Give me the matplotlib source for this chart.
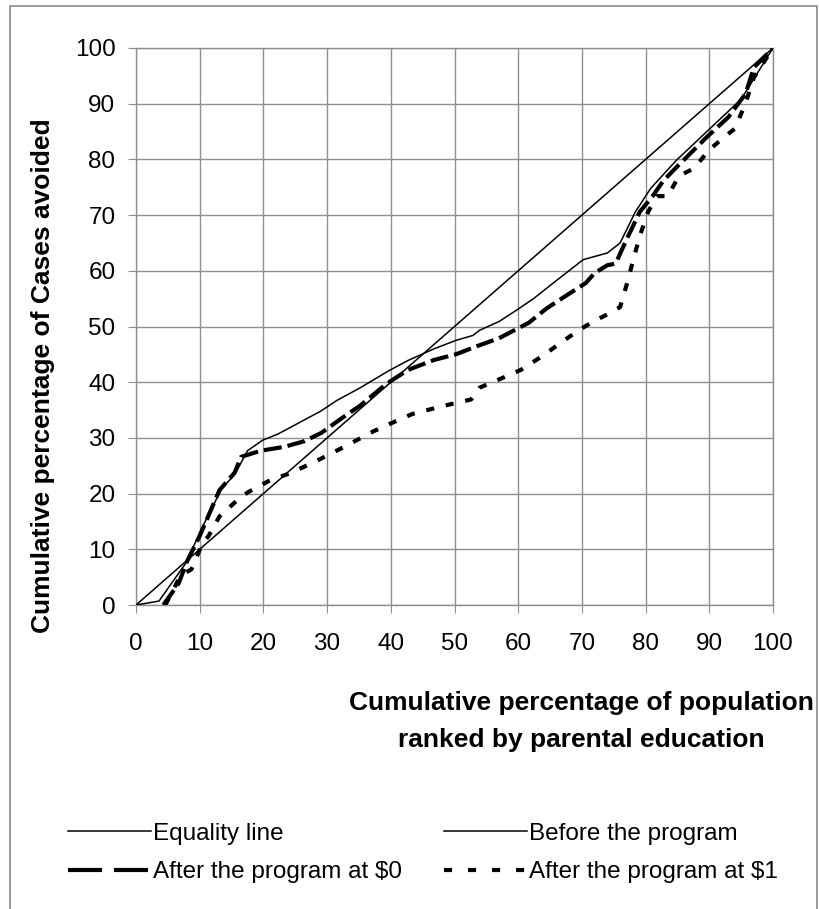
import matplotlib
matplotlib.use("Agg")
import matplotlib.pyplot as plt
from matplotlib.lines import Line2D
from matplotlib.patches import Rectangle

plt.rcParams['font.family'] = ['Liberation Sans', 'DejaVu Sans']
plt.rcParams['lines.scale_dashes'] = False

# ---- data ----
equality_x = [0, 100]
equality_y = [0, 100]

before_x = [0, 3.6, 8, 10, 13.5, 15.5, 17.5, 19.9, 22.3, 25.4, 29, 31.5, 35.2, 39.6, 42.7,
            46.8, 50.2, 52.9, 53.9, 57, 59.7, 62.4, 65.5, 70.2, 74, 76, 78.4, 80.8, 84.8,
            91, 95, 100]
before_y = [0, 0.7, 7.8, 13, 21, 23.4, 27.7, 29.6, 30.7, 32.6, 34.8, 36.7, 39, 42, 43.9,
            46, 47.5, 48.4, 49.3, 50.9, 52.9, 55, 57.8, 62, 63.2, 65, 70.6, 74.8, 79.8,
            86.5, 90.8, 100]

after0_x = [4.3, 6.7, 8, 10, 13.1, 15.5, 16.5, 19.6, 23.3, 26.4, 29.1, 32.5, 35.2, 39.3,
            42.7, 46.8, 50.2, 53.6, 57, 61.7, 64.4, 67.2, 70.6, 72, 74, 75.3, 77, 79.1,
            81.1, 82.8, 85.2, 89.6, 93, 95.7, 97, 100]
after0_y = [0, 3.9, 7.8, 12.4, 20.6, 23.8, 26.6, 27.7, 28.4, 29.4, 30.9, 33.7, 35.8, 39.7,
            42.2, 44, 45, 46.5, 47.9, 50.7, 53.2, 55.3, 57.8, 59.6, 61, 61.3, 65.6, 70.6,
            73.4, 76.2, 79, 84, 87.6, 91.8, 96.5, 100]

after1_x = [4.6, 7, 8.7, 10.4, 11.4, 13.1, 15.5, 17.5, 20.9, 24.3, 28.4, 33.2, 37.3, 40,
            43.4, 48.1, 52.6, 53.9, 57.6, 60.4, 63.8, 67.2, 69.5, 71.9, 74.6, 76, 77, 78,
            79.1, 80.4, 81.8, 83.5, 85.2, 87.6, 89.9, 92, 94, 95.7, 97, 100]
after1_y = [0, 5.3, 6.4, 11, 12.4, 15.9, 18.4, 20.2, 22.3, 23.7, 25.9, 28.7, 31.2, 32.6,
            34.3, 35.7, 36.9, 39, 40.8, 42.2, 44.7, 47.5, 49.3, 51, 52.5, 53.5, 57.4, 61.7,
            66.3, 70.6, 73.4, 73.4, 77, 78.4, 81.6, 83.7, 85.5, 90.1, 94.7, 100]

ticks = list(range(0, 101, 10))
labels = ["Equality line", "Before the program", "After the program at $0", "After the program at $1"]

W, H = 819, 909
fig = plt.figure(figsize=(W / 100, H / 100), dpi=100)
ax = fig.add_axes([136 / W, 1 - 605 / H, (773 - 136) / W, (605 - 48) / H])

grid_c = '#8f8f8f'
ax.plot(equality_x, equality_y, color='black', lw=1.1, zorder=3)
ax.plot(before_x, before_y, color='black', lw=1.1, zorder=3)
ax.plot(after0_x, after0_y, color='black', lw=3.0, dashes=(13, 4.3), zorder=4)
ax.plot(after1_x, after1_y, color='black', lw=3.0, dashes=(5.8, 8.6), zorder=4)

ax.set_xlim(0, 100)
ax.set_ylim(0, 100)
ax.set_xticks(ticks)
ax.set_yticks(ticks)
ax.grid(True, color=grid_c, lw=1)
ax.set_axisbelow(True)
for s in ax.spines.values():
    s.set_color(grid_c)
    s.set_linewidth(1)
ax.tick_params(axis='both', direction='out', length=5.8, color=grid_c, labelsize=17.5)
ax.tick_params(axis='y', pad=9)
ax.tick_params(axis='x', pad=14)

fig.text(581 / W, 1 - 703 / H, "Cumulative percentage of population", ha='center', va='center',
         fontsize=19, fontweight='bold')
fig.text(581 / W, 1 - 740 / H, "ranked by parental education", ha='center', va='center',
         fontsize=19, fontweight='bold')
fig.text(43 / W, 1 - 376 / H, "Cumulative percentage of Cases avoided", ha='center', va='center',
         rotation=90, fontsize=19, fontweight='bold')

# legend handles
h_eq = Line2D([], [], color='black', lw=1.1)
h_bf = Line2D([], [], color='black', lw=1.1)
h_a0 = Line2D([], [], color='black', lw=3.0, dashes=(24.5, 8.6))
h_a1 = Line2D([], [], color='black', lw=3.0, dashes=(5.8, 11.5))

common = dict(frameon=False, fontsize=17.5, handlelength=3.4, handletextpad=0.1,
              borderpad=0, borderaxespad=0, labelspacing=0.67, loc='center left')
leg1 = fig.legend([h_eq, h_a0], [labels[0], labels[2]], bbox_to_anchor=(68 / W, 1 - 853 / H), **common)
leg2 = fig.legend([h_bf, h_a1], [labels[1], labels[3]], bbox_to_anchor=(444 / W, 1 - 853 / H), **common)

fig.patches.append(Rectangle((10 / W, -0.01), (817 - 10) / W, 1 - 6 / H + 0.01,
                             transform=fig.transFigure, fill=False, edgecolor='#8a8a8a', lw=1.2))

fig.savefig("out.png", dpi=100)
